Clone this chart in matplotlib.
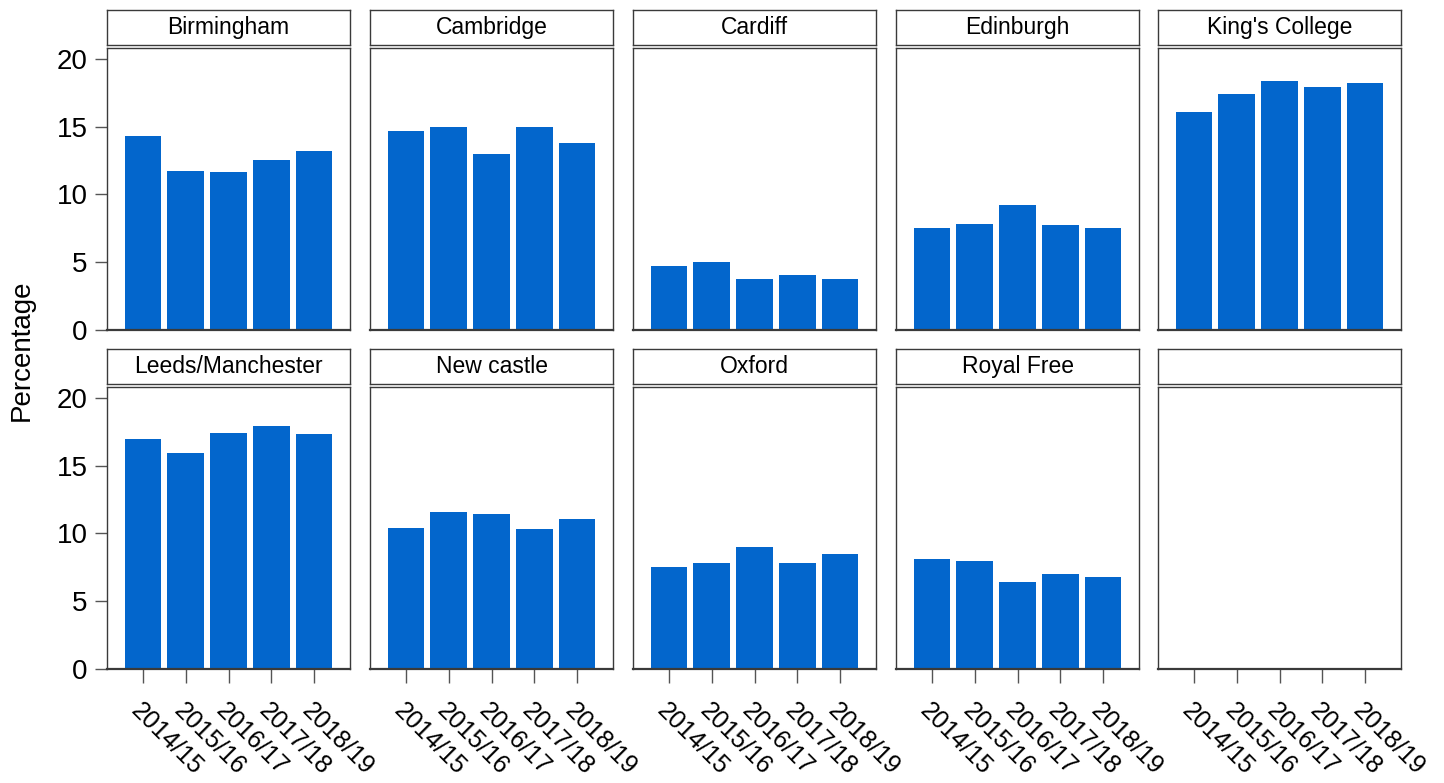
import matplotlib
matplotlib.use("Agg")
import matplotlib.pyplot as plt
import numpy as np

plt.rcParams['font.family'] = ['Liberation Sans', 'DejaVu Sans']

years = ["2014/15", "2015/16", "2016/17", "2017/18", "2018/19"]
schools = ["Birmingham", "Cambridge", "Cardiff", "Edinburgh", "King's College",
           "Leeds/Manchester", "New castle", "Oxford", "Royal Free"]
birmingham = [14.3, 11.7, 11.65, 12.55, 13.2]
cambridge = [14.7, 15.0, 13.0, 15.0, 13.8]
cardiff = [4.72, 5.0, 3.76, 4.06, 3.76]
edinburgh = [7.53, 7.82, 9.22, 7.75, 7.53]
kings_college = [16.1, 17.4, 18.35, 17.9, 18.2]
leeds_manchester = [17.0, 15.9, 17.4, 17.9, 17.3]
newcastle = [10.4, 11.6, 11.45, 10.3, 11.1]
oxford = [7.5, 7.8, 9.0, 7.8, 8.5]
royal_free = [8.1, 8.0, 6.4, 7.0, 6.8]
values = [birmingham, cambridge, cardiff, edinburgh, kings_college,
          leeds_manchester, newcastle, oxford, royal_free]

W, H = 1444, 783
fig = plt.figure(figsize=(W / 100, H / 100), dpi=100)

col_left = [107, 370, 633, 896, 1158]
panel_w = 243
rows = [(48, 330, 10, 45), (387, 669, 349, 384)]
bar_color = "#0366CC"
frame_color = "#3a3a3a"
x = np.arange(1, 6)

for idx in range(10):
    r, c = divmod(idx, 5)
    top, bot, stop, sbot = rows[r]
    left = col_left[c]
    ax = fig.add_axes([left / W, 1 - bot / H, panel_w / W, (bot - top) / H])
    sax = fig.add_axes([left / W, 1 - sbot / H, panel_w / W, (sbot - stop) / H])
    for s in sax.spines.values():
        s.set_color(frame_color)
        s.set_linewidth(1.0)
    sax.set_xticks([])
    sax.set_yticks([])
    if idx < len(schools):
        sax.text(0.5, 0.5, schools[idx], ha='center', va='center', fontsize=16.5,
                 transform=sax.transAxes)
        ax.bar(x, values[idx], width=0.86, color=bar_color)
    ax.set_xlim(0.16, 5.84)
    ax.set_ylim(0, 20.8)
    for s in ax.spines.values():
        s.set_color(frame_color)
        s.set_linewidth(1.0)
    ax.spines['bottom'].set_linewidth(1.6)
    ax.set_yticks([0, 5, 10, 15, 20])
    if c == 0:
        ax.tick_params(axis='y', direction='out', length=9, width=1, color='#555555',
                       labelsize=20, pad=5)
    else:
        ax.tick_params(axis='y', left=False, labelleft=False)
    ax.set_xticks(x)
    if r == 1:
        ax.set_xticklabels(years, rotation=-45, ha='left', va='top',
                           rotation_mode='anchor', fontsize=18)
        ax.tick_params(axis='x', direction='out', length=10, width=1, color='#555555',
                       pad=11)
    else:
        ax.tick_params(axis='x', bottom=False, labelbottom=False)

fig.text(22 / W, 1 - 350 / H, "Percentage", rotation=90, ha='center', va='center',
         fontsize=20)

fig.savefig("out.png", dpi=100)
